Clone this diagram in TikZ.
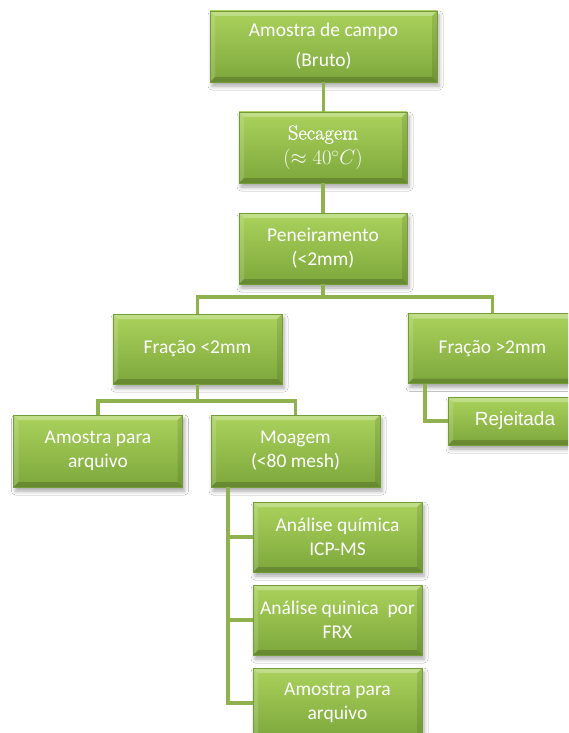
\documentclass[tikz,border=0pt]{standalone}
\usepackage{fontspec}
\setmainfont{Carlito}
\newfontfamily\arialf{Liberation Sans}
\newfontfamily\lmf{Latin Modern Roman}[FakeBold=1.2]
\usetikzlibrary{shadows.blur}
\definecolor{gtop}{HTML}{AAD25C}
\definecolor{gbot}{HTML}{7DA73C}
\definecolor{gborder}{HTML}{739C36}
\definecolor{conn}{HTML}{8FB24F}
\tikzset{
  box/.style={draw=gborder, line width=0.6pt, top color=gtop, bottom color=gbot,
    minimum width=169, minimum height=70, text=white, align=center,
    inner sep=0pt,
    font=\fontsize{19.5}{24}\selectfont,
    blur shadow={shadow xshift=2pt, shadow yshift=-4pt, shadow blur radius=4pt, shadow opacity=35},
    path picture={
      \fill[white,opacity=0.28] (path picture bounding box.north west) -- (path picture bounding box.north east)
        -- ([xshift=-5pt,yshift=-5pt]path picture bounding box.north east) -- ([xshift=5pt,yshift=-5pt]path picture bounding box.north west) -- cycle;
      \fill[white,opacity=0.14] (path picture bounding box.north west) -- ([xshift=5pt,yshift=-5pt]path picture bounding box.north west)
        -- ([xshift=5pt,yshift=5pt]path picture bounding box.south west) -- (path picture bounding box.south west) -- cycle;
      \fill[black,opacity=0.18] (path picture bounding box.south west) -- (path picture bounding box.south east)
        -- ([xshift=-5pt,yshift=5pt]path picture bounding box.south east) -- ([xshift=5pt,yshift=5pt]path picture bounding box.south west) -- cycle;
      \fill[black,opacity=0.10] (path picture bounding box.north east) -- (path picture bounding box.south east)
        -- ([xshift=-5pt,yshift=5pt]path picture bounding box.south east) -- ([xshift=-5pt,yshift=-5pt]path picture bounding box.north east) -- cycle;
    }},
  connline/.style={draw=conn, line width=3.6pt, line join=miter}
}
\begin{document}
\begin{tikzpicture}[x=1pt,y=-1pt]
\useasboundingbox (0,0) rectangle (568,733);
\clip (0,0) rectangle (568,733);
\fill[white] (0,0) rectangle (568,733);
% boxes
\node[box, minimum width=227, minimum height=71] (A) at (323.5,46.5) {Amostra de campo\\[6pt](Bruto)};
\node[box, minimum width=168, minimum height=71, font=\lmf\fontsize{20.5}{25}\selectfont] (B) at (323,147.5) {Secagem\\$(\approx 40^\circ C)$};
\node[box, minimum width=168, minimum height=71] (C) at (323,248.5) {Peneiramento\\(<2mm)};
\node[box] (D) at (197.5,349) {Fração <2mm};
\node[box] (E) at (492.5,348.5) {Fração >2mm};
\node[box, minimum width=134, minimum height=48, font=\arialf\fontsize{19}{22}\selectfont] (F) at (515,421) {Rejeitada};
\node[box, minimum height=72] (G) at (98,451) {Amostra para\\arquivo};
\node[box, minimum height=72] (H) at (295.5,451) {Moagem\\(<80 mesh)};
\node[box] (I1) at (337.5,537) {Análise química\\ICP-MS};
\node[box] (I2) at (337.5,620) {Análise quinica \ por\\FRX};
\node[box] (I3) at (337.5,703) {Amostra para\\arquivo};
% connectors
\coordinate (j1) at (323,297);
\coordinate (j2) at (197,401);
\coordinate (sp) at (228,0);
\coordinate (ef) at (425,0);
\draw[connline] (A.south) -- (A.south |- B.north);
\draw[connline] (B.south) -- (B.south |- C.north);
\draw[connline] (C.south) -- (C.south |- j1);
\draw[connline] (D.north) -- (D.north |- j1) -- (E.north |- j1) -- (E.north);
\draw[connline] (D.south) -- (D.south |- j2);
\draw[connline] (G.north) -- (G.north |- j2) -- (H.north |- j2) -- (H.north);
\draw[connline] (sp |- H.south) |- (I3.west);
\draw[connline] (sp |- I1.west) -- (I1.west);
\draw[connline] (sp |- I2.west) -- (I2.west);
\draw[connline] (ef |- E.south) |- (F.west);
\end{tikzpicture}
\end{document}
